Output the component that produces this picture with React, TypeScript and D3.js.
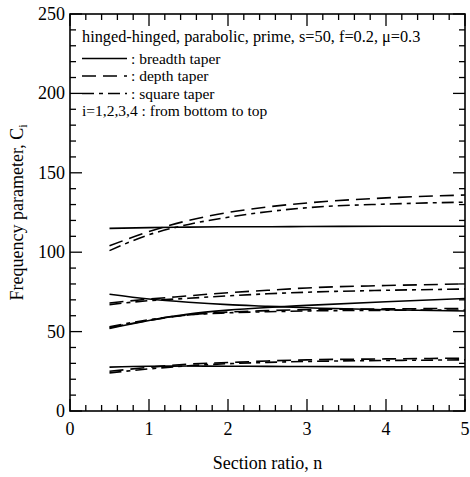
import React, { useEffect, useRef } from "react";
import * as d3 from "d3";

const nGrid = [0.5, 1, 1.5, 2, 2.5, 3, 4, 5];
const breadth1 = [27.6, 28.2, 28.3, 28.2, 28.1, 28.0, 27.9, 27.9];
const breadth2 = [52, 57, 61, 63.5, 65.2, 66.5, 68.8, 70.8];
const breadth3 = [73.5, 70.5, 68.5, 67, 66, 65, 63.8, 63];
const breadth4 = [115, 115.5, 115.8, 116, 116, 116.2, 116.3, 116.3];
const depth1 = [25, 27.5, 29.5, 30.5, 31.5, 32.2, 32.8, 33.3];
const depth2 = [52.5, 57, 60.5, 62.3, 63.2, 63.8, 64.3, 64.6];
const depth3 = [68, 70.5, 72.5, 74.5, 76, 77.5, 79, 80];
const depth4 = [104, 113, 120, 125, 128.5, 131, 134.2, 136];
const square1 = [24, 26.5, 28.5, 29.8, 30.6, 31.2, 31.8, 32.2];
const square2 = [53, 57.5, 60.5, 61.8, 62.5, 63, 63.4, 63.6];
const square3 = [67, 69.5, 71, 72.5, 73.8, 74.8, 76, 76.8];
const square4 = [101, 111, 117.5, 122, 125.5, 128, 130.3, 131.5];

const xTicks = [0, 1, 2, 3, 4, 5];
const yTicks = [0, 50, 100, 150, 200, 250];
const legendTitle = "hinged-hinged, parabolic, prime, s=50, f=0.2, \u03bc=0.3";
const legendItems = [": breadth taper", ": depth taper", ": square taper"];
const legendNote = "i=1,2,3,4 : from bottom to top";

const L = 70, R = 465, T = 14, B = 411;
const FONT = "Liberation Serif";

export default function App() {
  const ref = useRef<SVGSVGElement>(null);
  useEffect(() => {
    const svg = d3.select(ref.current);
    svg.selectAll("*").remove();
    const x = d3.scaleLinear().domain([0, 5]).range([L, R]);
    const y = d3.scaleLinear().domain([0, 250]).range([B, T]);
    const g = svg.append("g").style("font-family", FONT);

    g.append("rect").attr("x", L).attr("y", T).attr("width", R - L).attr("height", B - T)
      .attr("fill", "none").attr("stroke", "#000").attr("stroke-width", 1.6);

    const xMinor = d3.range(0, 5.0001, 0.2);
    xMinor.forEach((v) => {
      const major = Math.abs(v - Math.round(v)) < 1e-6;
      const len = major ? 12 : 6;
      const px = x(v);
      g.append("line").attr("x1", px).attr("x2", px).attr("y1", B).attr("y2", B - len)
        .attr("stroke", "#000").attr("stroke-width", 1.3);
      g.append("line").attr("x1", px).attr("x2", px).attr("y1", T).attr("y2", T + len)
        .attr("stroke", "#000").attr("stroke-width", 1.3);
    });
    const yMinor = d3.range(0, 250.001, 10);
    yMinor.forEach((v) => {
      const major = v % 50 === 0;
      const len = major ? 12 : 6;
      const py = y(v);
      g.append("line").attr("x1", L).attr("x2", L + len).attr("y1", py).attr("y2", py)
        .attr("stroke", "#000").attr("stroke-width", 1.3);
      g.append("line").attr("x1", R).attr("x2", R - len).attr("y1", py).attr("y2", py)
        .attr("stroke", "#000").attr("stroke-width", 1.3);
    });

    xTicks.forEach((v) => {
      g.append("text").attr("x", x(v)).attr("y", B + 24).attr("text-anchor", "middle")
        .attr("font-size", 18).text(String(v));
    });
    yTicks.forEach((v) => {
      g.append("text").attr("x", L - 5).attr("y", y(v) + 6).attr("text-anchor", "end")
        .attr("font-size", 18).text(String(v));
    });

    g.append("text").attr("x", (L + R) / 2).attr("y", 469).attr("text-anchor", "middle")
      .attr("font-size", 18).text("Section ratio, n");
    const yl = g.append("text").attr("transform", `translate(23,${(T + B) / 2}) rotate(-90)`)
      .attr("text-anchor", "middle").attr("font-size", 18);
    yl.append("tspan").text("Frequency parameter, C");
    yl.append("tspan").attr("font-size", 12).attr("dy", 4).text("i");

    const line = d3.line<number>().x((_, i) => x(nGrid[i])).y((d) => y(d)).curve(d3.curveMonotoneX);
    const styles: Record<string, string | null> = {
      breadth: null,
      depth: "14,7",
      square: "12,5,4,5",
    };
    const series: [number[], string][] = [
      [breadth1, "breadth"], [breadth2, "breadth"], [breadth3, "breadth"], [breadth4, "breadth"],
      [depth1, "depth"], [depth2, "depth"], [depth3, "depth"], [depth4, "depth"],
      [square1, "square"], [square2, "square"], [square3, "square"], [square4, "square"],
    ];
    series.forEach(([vals, kind]) => {
      g.append("path").attr("d", line(vals) as string).attr("fill", "none")
        .attr("stroke", "#000").attr("stroke-width", 1.6)
        .attr("stroke-dasharray", styles[kind]);
    });

    const lx0 = 82, lx1 = 127;
    const fs = 15.5;
    g.append("text").attr("x", lx0).attr("y", 42).attr("font-size", 16.3).text(legendTitle);
    const kinds = ["breadth", "depth", "square"];
    legendItems.forEach((t, i) => {
      const yy = 58.5 + i * 17.5;
      g.append("line").attr("x1", lx0).attr("x2", lx1).attr("y1", yy).attr("y2", yy)
        .attr("stroke", "#000").attr("stroke-width", 1.6).attr("stroke-dasharray", styles[kinds[i]]);
      g.append("text").attr("x", lx1 + 4).attr("y", yy + 5).attr("font-size", fs).text(t);
    });
    g.append("text").attr("x", lx0).attr("y", 116).attr("font-size", fs).text(legendNote);
  }, []);
  return (
    <svg ref={ref} width={470} height={477}
      style={{ position: "absolute", left: 0, top: 0, background: "#fff" }} />
  );
}
